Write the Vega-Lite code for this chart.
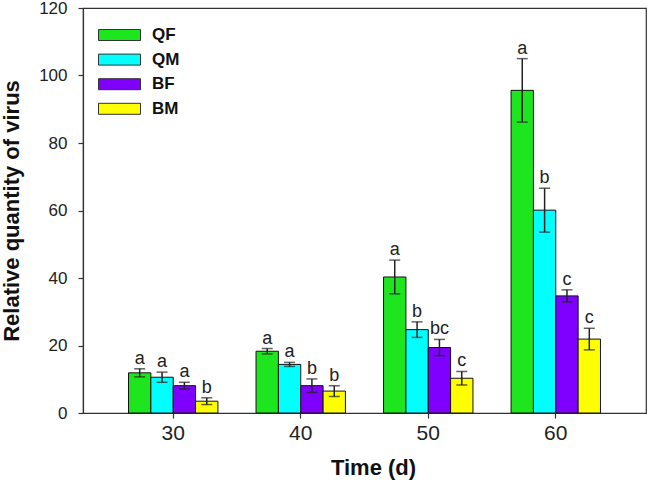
{
  "$schema": "https://vega.github.io/schema/vega-lite/v6.json",
  "width": 563,
  "height": 405,
  "autosize": {"type": "none"},
  "padding": {"left": 83, "top": 8, "right": 3, "bottom": 77},
  "config": {
    "font": "Liberation Sans",
    "view": {"stroke": "#333", "strokeWidth": 1.2},
    "axis": {"grid": false, "domainColor": "#333", "tickColor": "#333", "labelColor": "#222", "titleColor": "#111", "labelFont": "Liberation Sans", "titleFont": "Liberation Sans", "domainWidth": 1.2, "tickWidth": 1.2, "tickSize": 5}
  },
  "data": {
    "values": [
      {"time": "30", "group": "QF", "mean": 11.9, "lo": 10.7, "hi": 13.1, "label": "a"},
      {"time": "30", "group": "QM", "mean": 10.6, "lo": 9.1, "hi": 12.1, "label": "a"},
      {"time": "30", "group": "BF", "mean": 8.1, "lo": 7.1, "hi": 9.1, "label": "a"},
      {"time": "30", "group": "BM", "mean": 3.5, "lo": 2.5, "hi": 4.5, "label": "b"},
      {"time": "40", "group": "QF", "mean": 18.3, "lo": 17.5, "hi": 19.1, "label": "a"},
      {"time": "40", "group": "QM", "mean": 14.4, "lo": 13.8, "hi": 15.0, "label": "a"},
      {"time": "40", "group": "BF", "mean": 8.1, "lo": 6.1, "hi": 10.1, "label": "b"},
      {"time": "40", "group": "BM", "mean": 6.5, "lo": 4.9, "hi": 8.1, "label": "b"},
      {"time": "50", "group": "QF", "mean": 40.3, "lo": 35.3, "hi": 45.3, "label": "a"},
      {"time": "50", "group": "QM", "mean": 24.7, "lo": 22.4, "hi": 27.0, "label": "b"},
      {"time": "50", "group": "BF", "mean": 19.4, "lo": 17.0, "hi": 21.8, "label": "bc"},
      {"time": "50", "group": "BM", "mean": 10.3, "lo": 8.3, "hi": 12.3, "label": "c"},
      {"time": "60", "group": "QF", "mean": 95.6, "lo": 86.2, "hi": 105.0, "label": "a"},
      {"time": "60", "group": "QM", "mean": 60.1, "lo": 53.6, "hi": 66.6, "label": "b"},
      {"time": "60", "group": "BF", "mean": 34.7, "lo": 32.9, "hi": 36.5, "label": "c"},
      {"time": "60", "group": "BM", "mean": 21.9, "lo": 18.7, "hi": 25.1, "label": "c"}
    ]
  },
  "encoding": {
    "x": {
      "field": "time", "type": "ordinal",
      "scale": {"paddingInner": 0.299, "paddingOuter": 0.357},
      "axis": {"title": "Time (d)", "labelAngle": 0, "labelFontSize": 21, "labelPadding": 4, "titleFontSize": 22, "titleFontWeight": "bold", "titlePadding": 14, "titleX": 290}
    },
    "xOffset": {"field": "group", "type": "nominal", "sort": ["QF", "QM", "BF", "BM"], "scale": {"paddingInner": 0, "paddingOuter": 0}}
  },
  "layer": [
    {
      "mark": {"type": "bar", "stroke": "#111", "strokeWidth": 1},
      "encoding": {
        "y": {
          "field": "mean", "type": "quantitative",
          "scale": {"domain": [0, 120], "nice": false},
          "axis": {"title": "Relative quantity of virus", "values": [0, 20, 40, 60, 80, 100, 120], "labelFontSize": 17, "labelPadding": 11, "titleFontSize": 22, "titleFontWeight": "bold", "titlePadding": 15}
        },
        "fill": {
          "field": "group", "type": "nominal", "sort": ["QF", "QM", "BF", "BM"],
          "scale": {"domain": ["QF", "QM", "BF", "BM"], "range": ["#1ee61e", "#00ffff", "#7f00ff", "#ffff00"]},
          "legend": {
            "title": null, "orient": "none", "legendX": 15, "legendY": 17,
            "symbolType": "M-1,-0.262H1V0.262H-1Z", "symbolSize": 1764,
            "symbolStrokeColor": "#333", "symbolStrokeWidth": 1,
            "labelFontSize": 17, "labelFontWeight": "bold", "labelColor": "#111",
            "labelOffset": 11, "clipHeight": 20, "rowPadding": 4.6, "padding": 0
          }
        }
      }
    },
    {
      "mark": {"type": "rule", "color": "#222", "strokeWidth": 1.5},
      "encoding": {
        "y": {"field": "lo", "type": "quantitative"},
        "y2": {"field": "hi"}
      }
    },
    {
      "mark": {"type": "tick", "color": "#222", "thickness": 1.5, "size": 11, "orient": "horizontal"},
      "encoding": {"y": {"field": "lo", "type": "quantitative"}}
    },
    {
      "mark": {"type": "tick", "color": "#222", "thickness": 1.5, "size": 11, "orient": "horizontal"},
      "encoding": {"y": {"field": "hi", "type": "quantitative"}}
    },
    {
      "mark": {"type": "text", "dy": -5, "baseline": "alphabetic", "fontSize": 18, "color": "#222"},
      "encoding": {
        "y": {"field": "hi", "type": "quantitative"},
        "text": {"field": "label"}
      }
    }
  ]
}
